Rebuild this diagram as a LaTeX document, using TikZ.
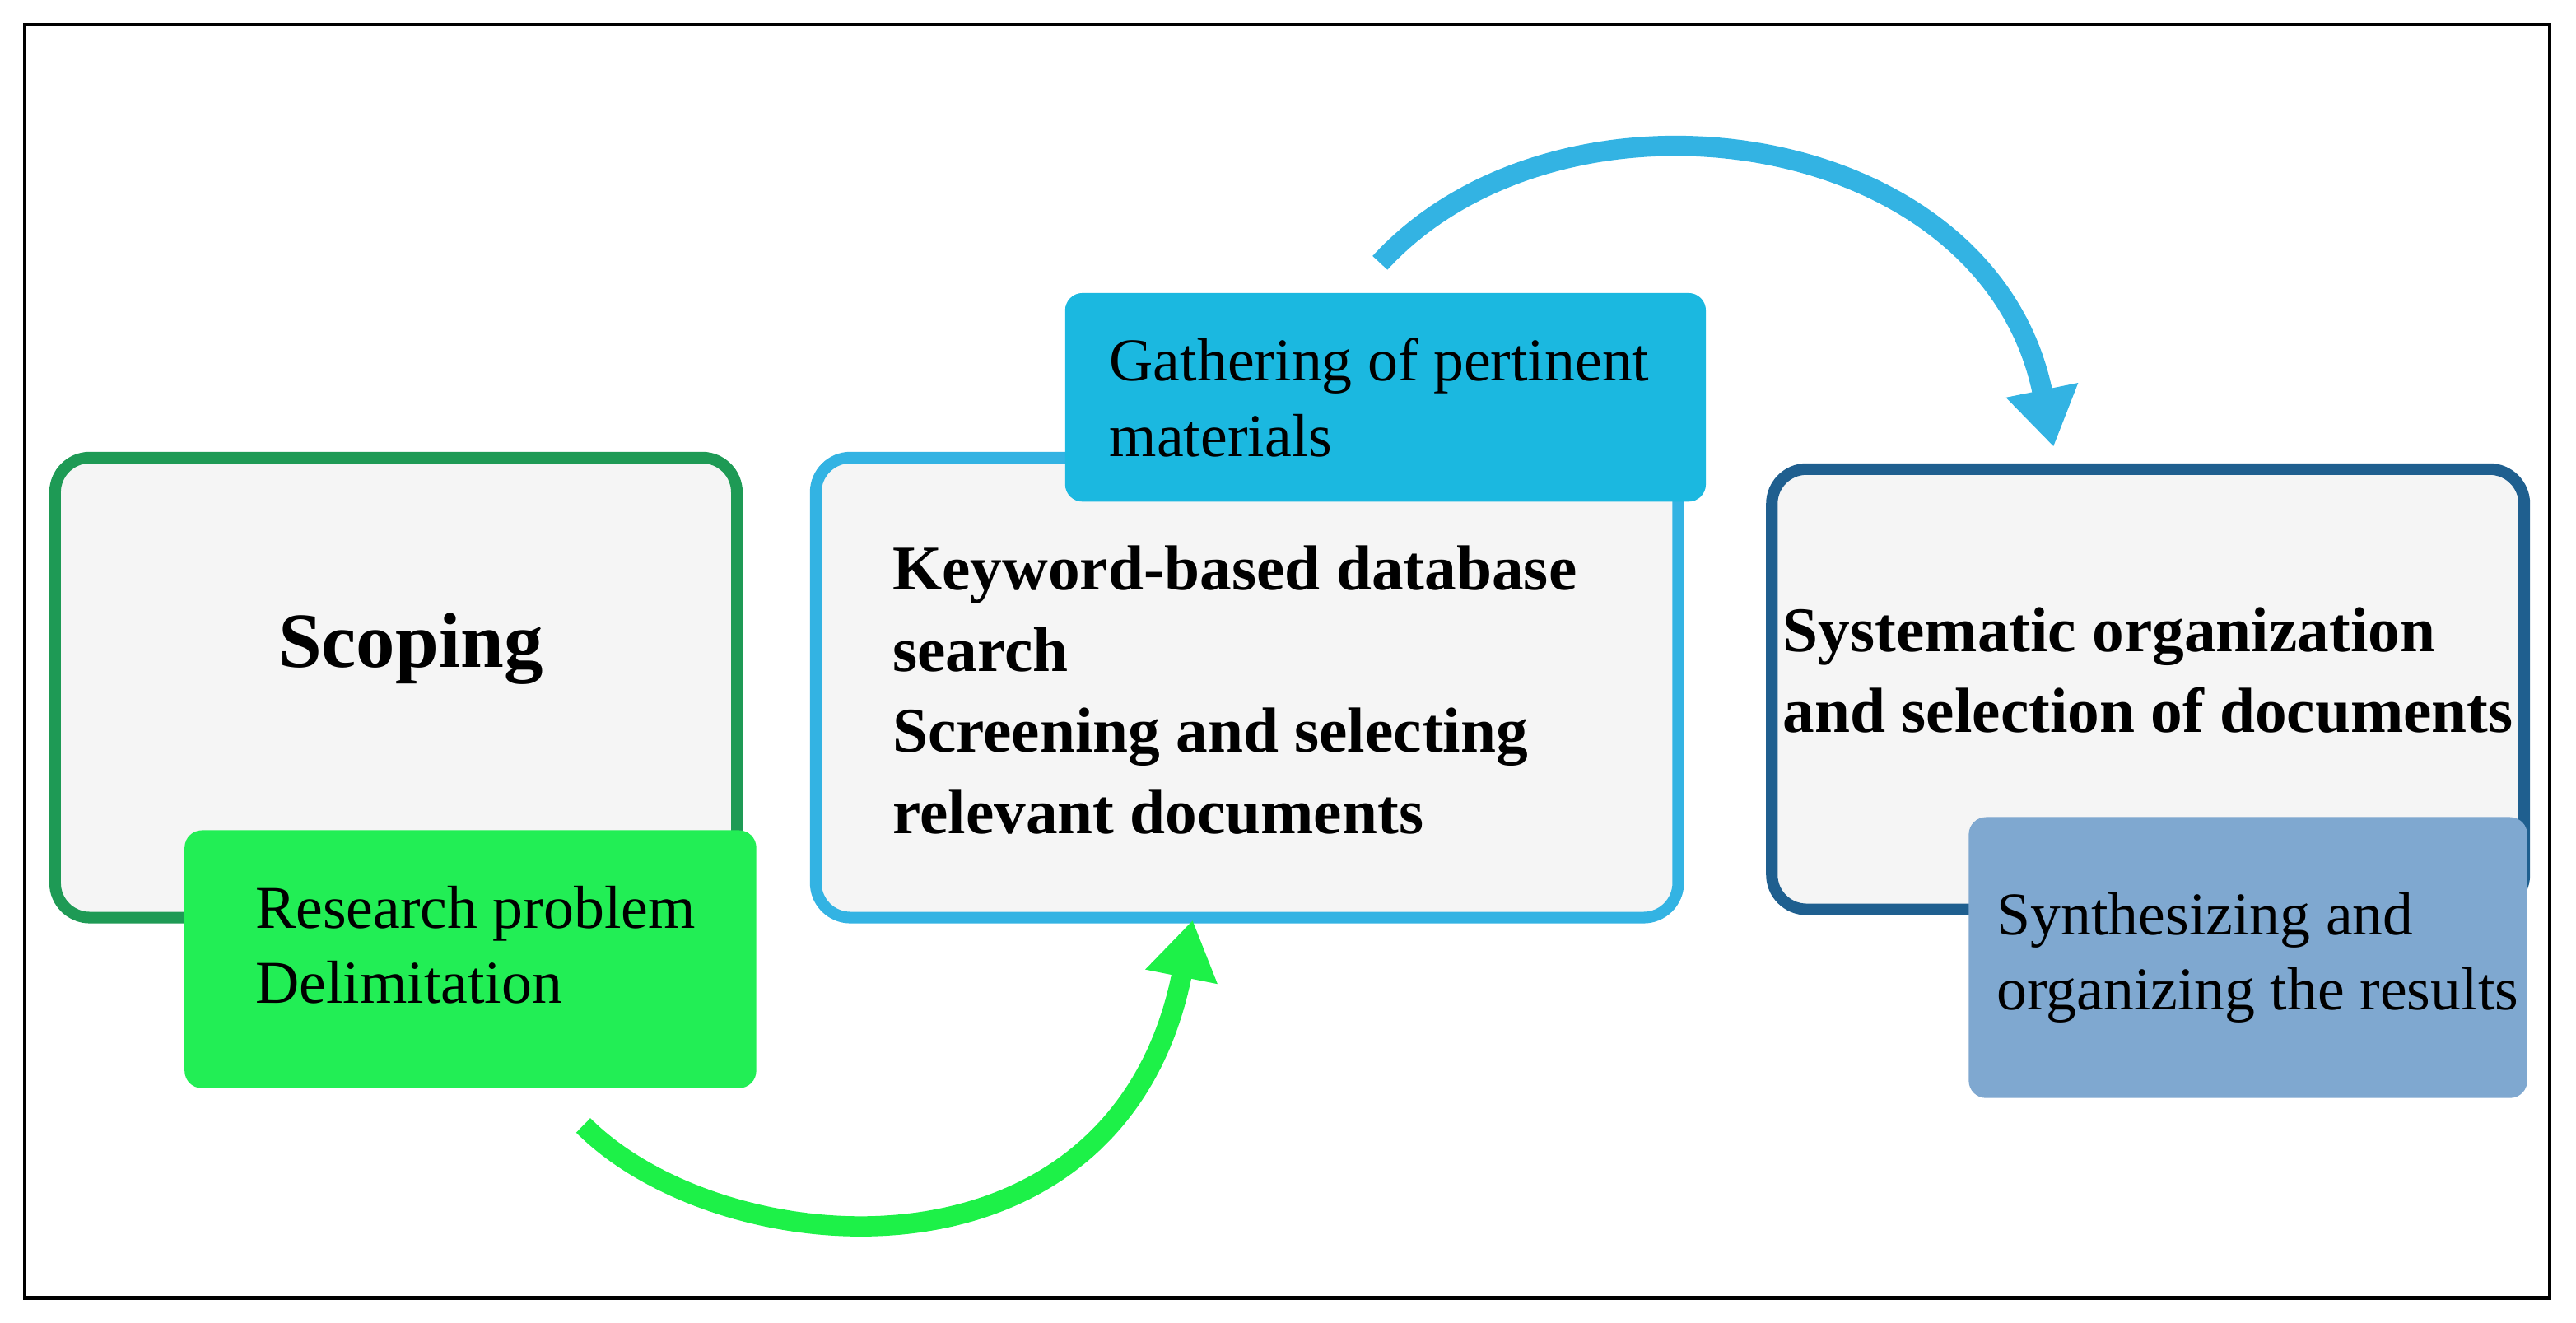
\documentclass[tikz,border=0pt]{standalone}
\usepackage{fontspec}
\setmainfont{Liberation Serif}
\usetikzlibrary{positioning, arrows.meta, shapes}
\definecolor{scopegreen}{HTML}{1E9A55}
\definecolor{brightgreen}{HTML}{22EE55}
\definecolor{midblue}{HTML}{33B3E3}
\definecolor{gatherblue}{HTML}{1BB8E0}
\definecolor{darkblue}{HTML}{1F5F8F}
\definecolor{synthblue}{HTML}{7FA8D0}
\definecolor{boxgray}{HTML}{F5F5F5}
\tikzset{
  stagebox/.style={rectangle, rounded corners=12pt, line width=4pt, fill=boxgray, anchor=north west},
  tag/.style={rectangle, rounded corners=6pt, anchor=north west, align=left, font=\fontsize{21}{26}\selectfont, inner sep=0pt},
  bold/.style={align=left, font=\bfseries\fontsize{22}{28}\selectfont, inner sep=0pt},
  arc/.style={line width=7pt, -{Triangle[length=20pt, width=24pt]}}
}
\begin{document}
\begin{tikzpicture}[x=0.01996cm, y=-0.01996cm]
    \useasboundingbox (0,0) rectangle (1568,805);
    % Frame
    \draw[line width=1.2pt] (15,15) rectangle (1552,790);

    % Boxes
    \node (scoping) [stagebox, draw=scopegreen, minimum width=415*0.01996cm, minimum height=280*0.01996cm] at (30,275) {};
    \node (scopetext) [font=\bfseries\fontsize{27}{32}\selectfont] at (250,395) {Scoping};
    \node (research) [tag, fill=brightgreen, minimum width=348*0.01996cm, minimum height=157*0.01996cm] at (112,505) {};
    \node (researchtext) [tag, anchor=west] at (155,575) {Research problem\\Delimitation};

    \node (search) [stagebox, draw=midblue, minimum width=525*0.01996cm, minimum height=280*0.01996cm] at (493,275) {};
    \node (searchtext) [bold, anchor=west] at (543,420) {Keyword-based database\\search\\Screening and selecting\\relevant documents};
    \node (gather) [tag, fill=gatherblue, minimum width=390*0.01996cm, minimum height=127*0.01996cm] at (648,178) {};
    \node (gathertext) [tag, anchor=west] at (675,242) {Gathering of pertinent\\materials};

    \node (organize) [stagebox, draw=darkblue, minimum width=458*0.01996cm, minimum height=268*0.01996cm] at (1075,282) {};
    \node (organizetext) [bold, anchor=west] at (1085,408) {Systematic organization\\and selection of documents};
    \node (synth) [tag, fill=synthblue, minimum width=340*0.01996cm, minimum height=171*0.01996cm] at (1198,497) {};
    \node (synthtext) [tag, anchor=west] at (1215,583) {Synthesizing and\\organizing the results};

    % Arrows
    \coordinate (gstart) at (355,685);
    \coordinate (gend) at (726,560);
    \coordinate (bstart) at (840,160);
    \coordinate (bend) at (1250,272);
    \draw[arc, color=brightgreen!85!green] (gstart) .. controls (440,770) and (680,790) .. (gend);
    \draw[arc, color=midblue] (bstart) .. controls (950,40) and (1210,75) .. (bend);
\end{tikzpicture}
\end{document}
